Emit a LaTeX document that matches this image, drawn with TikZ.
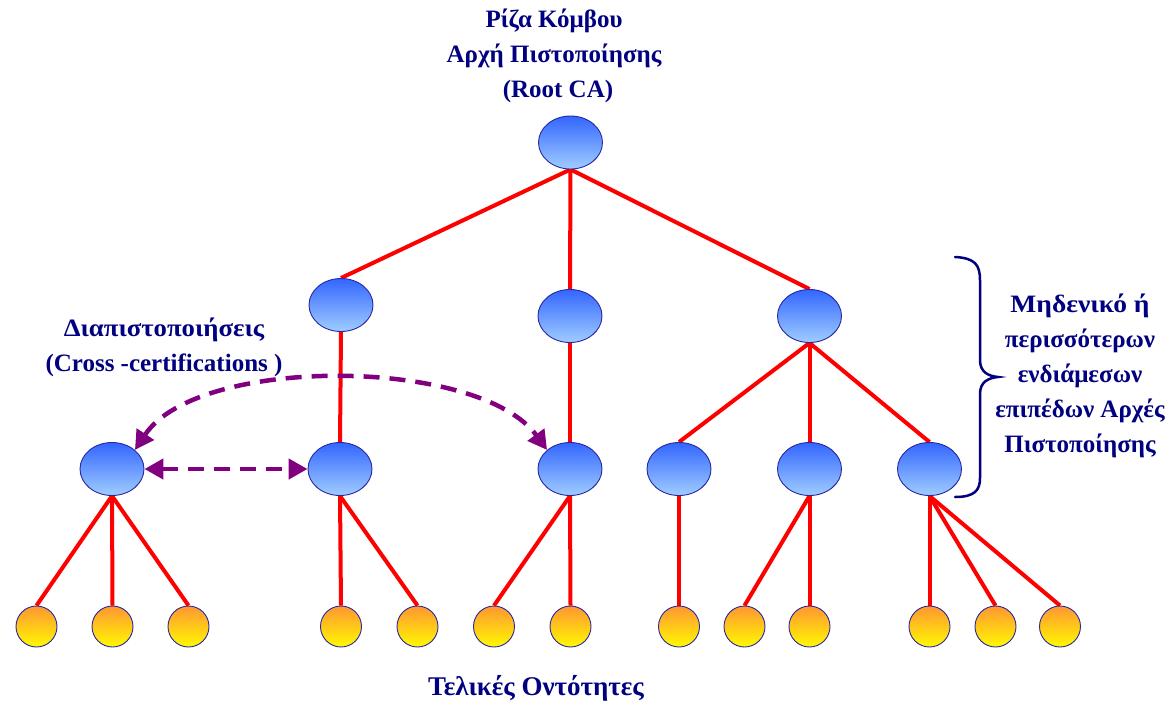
\documentclass[tikz,border=0pt]{standalone}
\usepackage{graphicx}
\usepackage{fontspec}
\setmainfont{Liberation Serif}
\usetikzlibrary{shapes.geometric,arrows.meta,backgrounds}
\definecolor{navy}{RGB}{0,0,128}
\definecolor{linkred}{RGB}{255,0,0}
\definecolor{crosspurple}{RGB}{128,0,128}
\definecolor{caTop}{RGB}{51,102,255}
\definecolor{caBottom}{RGB}{160,205,255}
\definecolor{eeTop}{RGB}{255,150,50}
\definecolor{eeBottom}{RGB}{255,250,0}
\definecolor{rimblue}{RGB}{40,40,160}
\begin{document}
\begin{tikzpicture}[x=1pt,y=-1pt,
  ca/.style={ellipse, draw=rimblue, line width=0.9pt, minimum width=64pt,
    minimum height=53pt, inner sep=0pt, top color=caTop, bottom color=caBottom},
  ee/.style={circle, draw=rimblue, line width=0.9pt, minimum size=41pt,
    inner sep=0pt, top color=eeTop, bottom color=eeBottom},
  treelink/.style={draw=linkred, line width=4pt},
  crossarrow/.style={draw=crosspurple, line width=4.5pt,
    dash pattern=on 16pt off 10pt,
    {Triangle[length=19pt,width=20pt]}-{Triangle[length=19pt,width=20pt]}},
  textlabel/.style={text=navy, font=\bfseries\fontsize{25}{35}\selectfont,
    align=center, inner sep=0pt}
]
\useasboundingbox (0,0) rectangle (1165,702);

% certification authorities
\node[ca] (root) at (570.5,142.5) {};
\node[ca] (a1) at (341,305) {};
\node[ca] (a2) at (570,316) {};
\node[ca] (a3) at (809.5,316) {};
\node[ca] (b1) at (112,469) {};
\node[ca] (b2) at (340,469) {};
\node[ca] (b3) at (570,469) {};
\node[ca] (b4) at (679,469) {};
\node[ca] (b5) at (809.5,469) {};
\node[ca] (b6) at (929.5,469) {};

% end entities
\foreach \n/\x in {1/36.5,2/112.5,3/188.5,4/341,5/417.5,6/494,7/570.5,
                   8/679,9/744.5,10/809.5,11/929.5,12/995.5,13/1060}
  \node[ee] (e\n) at (\x,626.5) {};

% white page and hierarchy links, kept behind the nodes
\begin{pgfonlayer}{background}
  \fill[white] (0,0) rectangle (1165,702);
  \foreach \c in {a1,a2,a3} \draw[treelink] (root.south) -- (\c.north);
  \draw[treelink] (a1.south) -- (b2.north);
  \draw[treelink] (a2.south) -- (b3.north);
  \foreach \c in {b4,b5,b6} \draw[treelink] (a3.south) -- (\c.north);
  \foreach \c in {e1,e2,e3} \draw[treelink] (b1.south) -- (\c.north);
  \foreach \c in {e4,e5} \draw[treelink] (b2.south) -- (\c.north);
  \foreach \c in {e6,e7} \draw[treelink] (b3.south) -- (\c.north);
  \draw[treelink] (b4.south) -- (e8.north);
  \foreach \c in {e9,e10} \draw[treelink] (b5.south) -- (\c.north);
  \foreach \c in {e11,e12,e13} \draw[treelink] (b6.south) -- (\c.north);
\end{pgfonlayer}

% cross-certifications
\draw[crossarrow] (b1.east) -- (b2.west);
\draw[crossarrow] (b1.north east) .. controls +(63,-95) and +(-68,-93) .. (b3.north west);

% brace over the intermediate levels
\draw[navy, line width=2.5pt, line cap=round]
  (955,257) .. controls (975,258) and (980,265) .. (980,280) -- (980,360)
  .. controls (980,372) and (988,376) .. (998,377)
  .. controls (988,378) and (980,382) .. (980,394) -- (980,478)
  .. controls (980,490) and (975,497) .. (955,497);

% labels
\node[textlabel, anchor=north] (rootlabel) at (554,9)
  {Ρίζα Κόμβου\\Αρχή Πιστοποίησης\hspace*{12pt}\\\hspace*{8pt}(Root CA)};
\node[textlabel, anchor=north] (crosslabel) at (164,318)
  {\scalebox{1.07}[1]{Διαπιστοποιήσεις}\\(Cross -certifications )};
\node[textlabel, anchor=north] (levelslabel) at (1080,294)
  {\scalebox{1.1}[1]{Μηδενικό ή}\\περισσότερων\\ενδιάμεσων\\επιπέδων Αρχές\\Πιστοποίησης};
\node[textlabel, anchor=base, font=\bfseries\fontsize{27}{35}\selectfont]
  (eelabel) at (536,695) {Τελικές Οντότητες};
\end{tikzpicture}
\end{document}
